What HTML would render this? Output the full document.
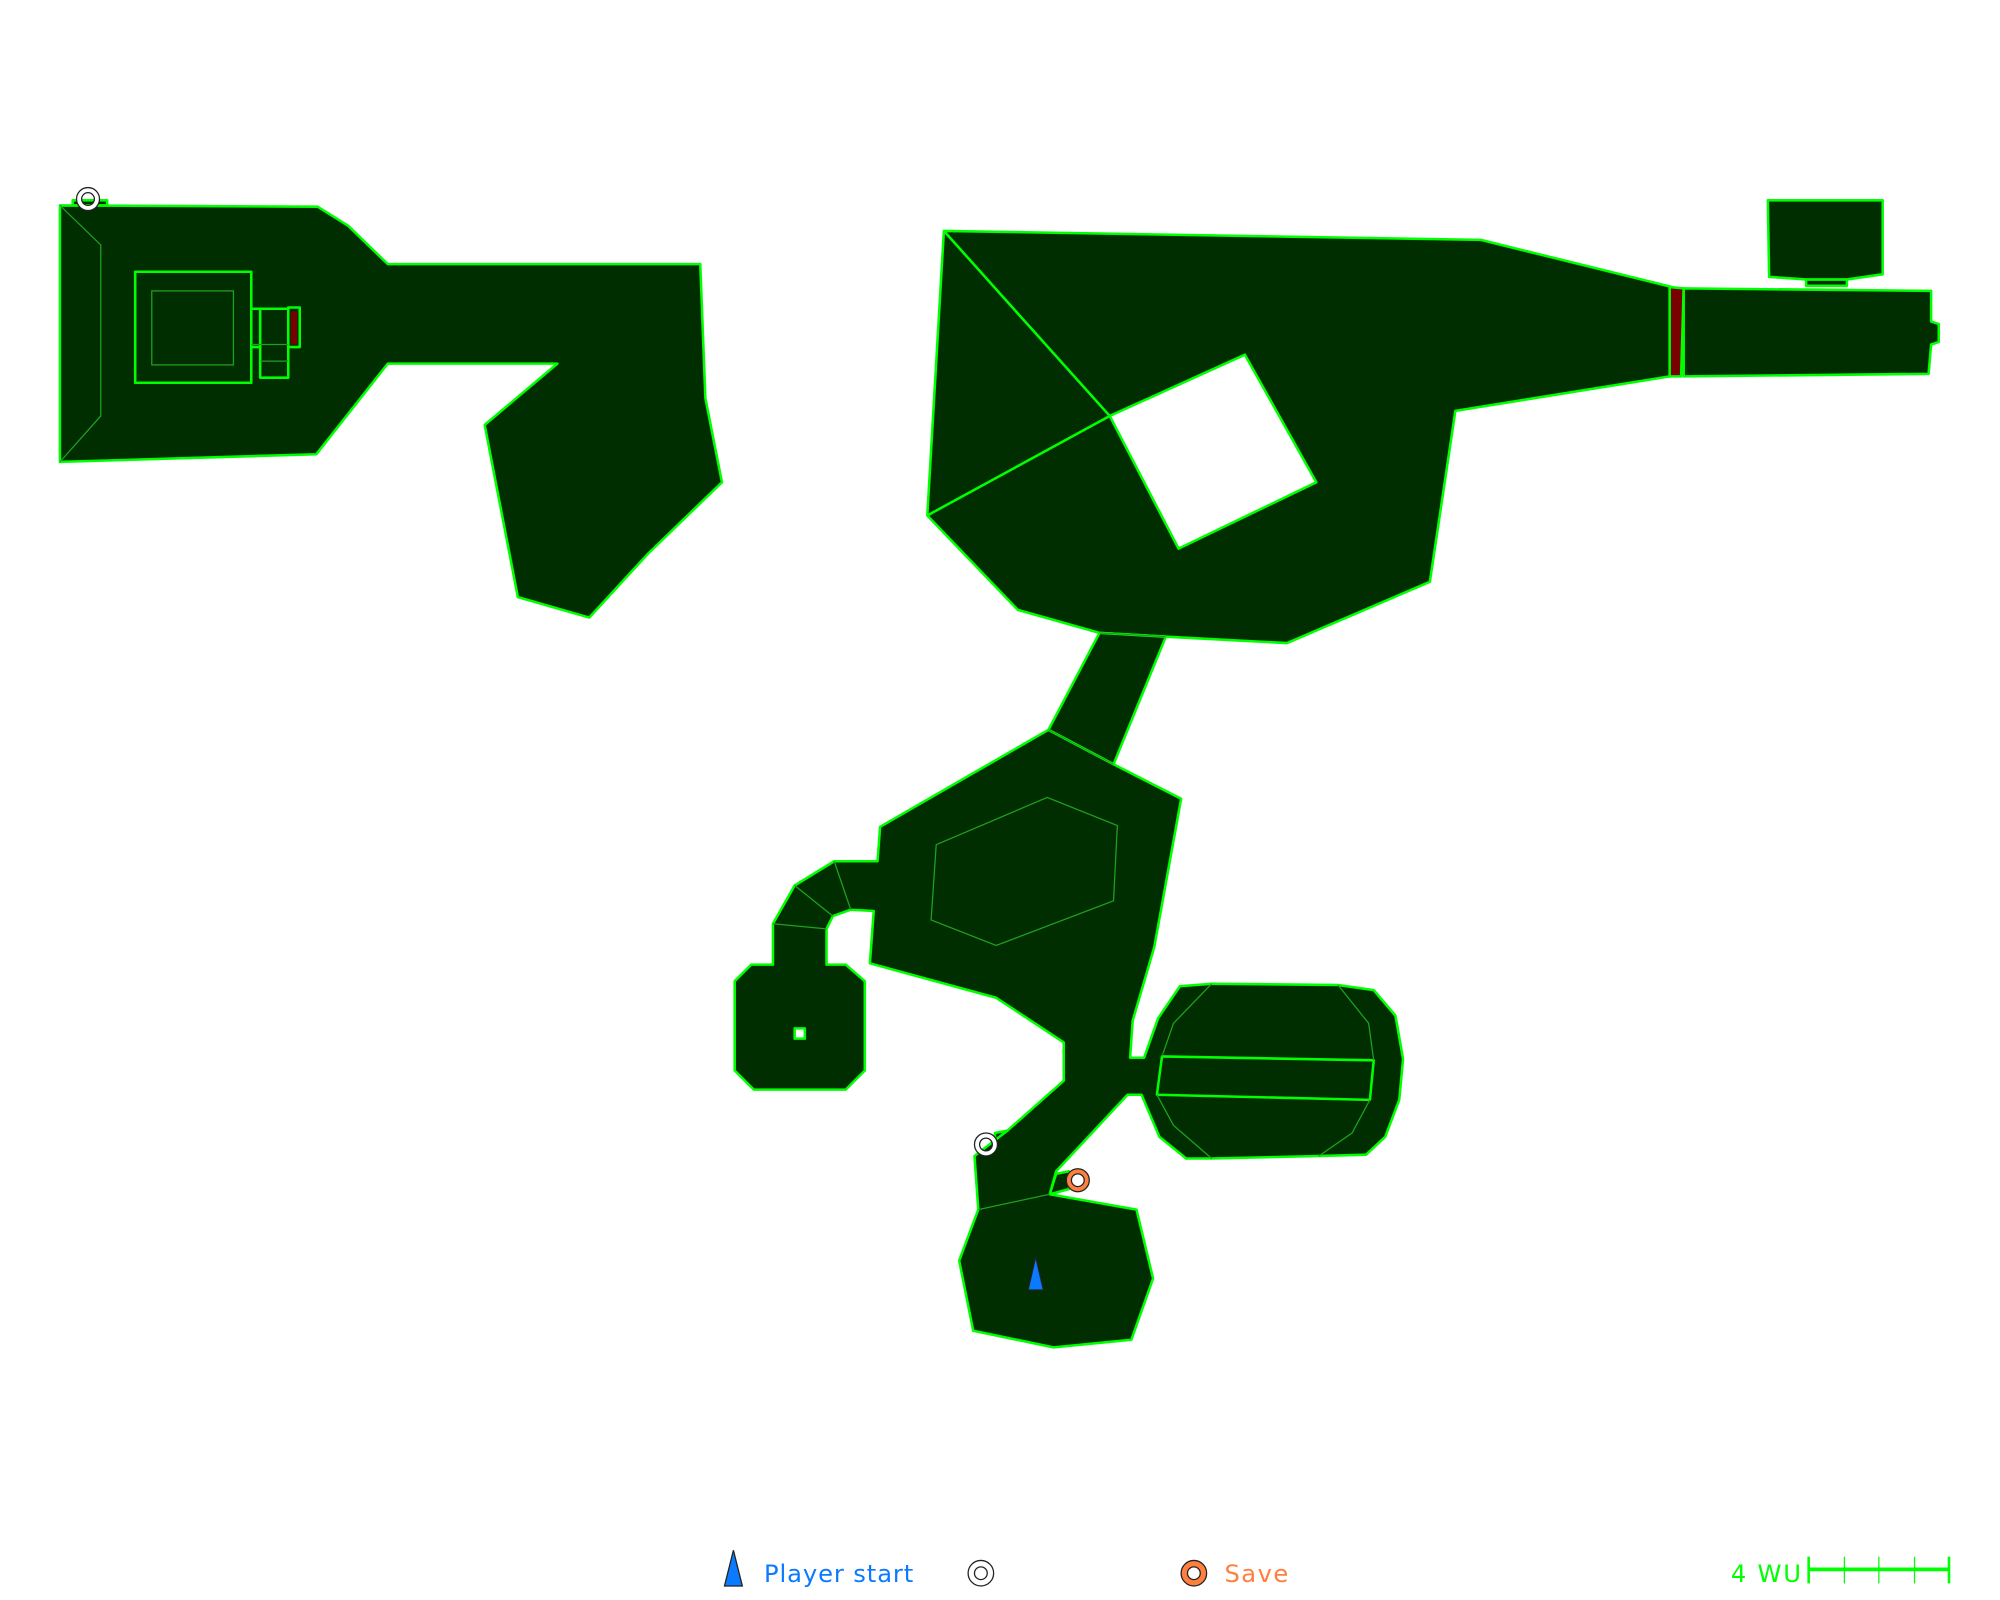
<!DOCTYPE html>
<html><head><meta charset="utf-8"><style>html,body{margin:0;padding:0;background:#fff}svg{display:block}</style></head>
<body>
<svg width="2000" height="1600" viewBox="0 0 1568 1254" preserveAspectRatio="none" xmlns="http://www.w3.org/2000/svg">
<g fill="#002e00" stroke="#00ff00" stroke-width="2" stroke-linejoin="round">
<polygon points="57,161 57,157 84,157 84,161"/>
<polygon points="47,161 249,162 273,177 304,207 549,207 553,312 566,378 508,434 462,484 406,468 380,333 437,285 304,285 248,356 47,362"/>
<rect x="106" y="213" width="91" height="87"/>
<rect x="197" y="242" width="7" height="30"/>
<rect x="204" y="242" width="22" height="54"/>
<rect x="226" y="241" width="9" height="31"/>
<polygon points="740,181 1161,188 1311,225 1309,295 1141,322 1121,456 1009,504 914,499 862,496 798,478 727,404"/>
<polygon points="870,326 976,278 1032,378 924,430" fill="#fff"/>
<polygon points="1309,225 1320,226 1318,295 1309,295" fill="#7a0000"/>
<polygon points="1320,226 1514,228 1514,252 1520,254 1520,268 1514,270 1512,293 1320,295"/>
<polygon points="1416,219 1448,219 1448,224 1416,224"/>
<polygon points="1386,157 1476,157 1476,215 1448,219 1416,219 1387,217"/>
<polygon points="862,496 914,499 873,599 822,572"/>
<polygon points="780,888 790,886 790,895 780,895"/>
<polygon points="823,936 828,920 838,918 838,932"/>
<polygon points="690,648 822,572 873,599 926,626 905,742 888,800 886,829 897,829 908,798 925,773 950,771 1049,772 1077,776 1094,796 1100,830 1097,862 1086,891 1071,905 1034,906 950,908 930,908 909,891 895,858 884,858 828,918 823,936 891,948 904,1002 887,1050 826,1056 763,1043 752,988 767,948 764,906 790,886 834,847 834,817 781,782 682,755 685,714 667,713 653,718 648,728 648,756 663,756 678,769 678,839 663,854 591,854 576,839 576,769 589,756 606,756 606,724 623,694 654,675 688,675"/>
<polygon points="911,828 1077,831 1074,862 907,858"/>
<rect x="623" y="806" width="8" height="8" fill="#fff"/>
</g>
<rect x="228" y="244" width="5" height="26" fill="#7a0000"/>
<g fill="none" stroke="#1fa01f" stroke-width="1">
<polyline points="47,161 79,192 79,326 47,362"/>
<rect x="119" y="228" width="64" height="58"/>
<line x1="204" y1="283" x2="226" y2="283"/>
<line x1="197" y1="270" x2="226" y2="270"/>
<polygon points="734,662 821,625 876,647 873,706 781,741 730,721"/>
<line x1="822" y1="572" x2="873" y2="599"/>
<line x1="623" y1="694" x2="653" y2="718"/>
<line x1="654" y1="675" x2="667" y2="713"/>
<line x1="606" y1="724" x2="648" y2="728"/>
<polyline points="950,771 920,802 911,828"/>
<polyline points="1049,772 1073,802 1077,831"/>
<polyline points="907,858 920,882 950,908"/>
<polyline points="1074,862 1060,888 1034,906"/>
<line x1="767" y1="948" x2="823" y2="936"/>
<line x1="862" y1="496" x2="914" y2="499"/>
</g>
<g stroke="#00ff00" stroke-width="2">
<line x1="740" y1="181" x2="870" y2="326"/>
<line x1="727" y1="404" x2="870" y2="326"/>
</g>
<g stroke="#222" stroke-width="1" fill-rule="evenodd">
<path fill="#fff" d="M60,156 a9,9 0 1,0 18,0 a9,9 0 1,0 -18,0 M64,156 a5,5 0 1,0 10,0 a5,5 0 1,0 -10,0"/>
<path fill="#fff" d="M764,897 a9,9 0 1,0 18,0 a9,9 0 1,0 -18,0 M768,897 a5,5 0 1,0 10,0 a5,5 0 1,0 -10,0"/>
<path fill="#ff7f3f" d="M836,925 a9,9 0 1,0 18,0 a9,9 0 1,0 -18,0 M840,925 a5,5 0 1,0 10,0 a5,5 0 1,0 -10,0"/>
<polygon points="806,1011 812,985 818,1011" fill="#0a7aff"/>
<polygon points="568,1243 575,1215 582,1243" fill="#0a7aff"/>
<path fill="#fff" d="M759,1233 a10,10 0 1,0 20,0 a10,10 0 1,0 -20,0 M764,1233 a5,5 0 1,0 10,0 a5,5 0 1,0 -10,0"/>
<path fill="#ff7f3f" d="M926,1233 a10,10 0 1,0 20,0 a10,10 0 1,0 -20,0 M931,1233 a5,5 0 1,0 10,0 a5,5 0 1,0 -10,0"/>
</g>
<g font-family="'DejaVu Sans','Liberation Sans',sans-serif" font-size="19">
<text x="599" y="1240" fill="#0a7aff" textLength="117">Player start</text>
<text x="960" y="1240" fill="#ff7f3f" textLength="50">Save</text>
<text x="1357" y="1240" fill="#00ff00" textLength="55">4 WU</text>
</g>
<g stroke="#00ff00">
<line x1="1418" y1="1230" x2="1528" y2="1230" stroke-width="3"/>
<line x1="1418" y1="1220" x2="1418" y2="1241" stroke-width="2"/>
<line x1="1528" y1="1220" x2="1528" y2="1241" stroke-width="2"/>
<line x1="1446" y1="1220" x2="1446" y2="1241" stroke-width="1"/>
<line x1="1473" y1="1220" x2="1473" y2="1241" stroke-width="1"/>
<line x1="1501" y1="1220" x2="1501" y2="1241" stroke-width="1"/>
</g>
</svg>
</body></html>
